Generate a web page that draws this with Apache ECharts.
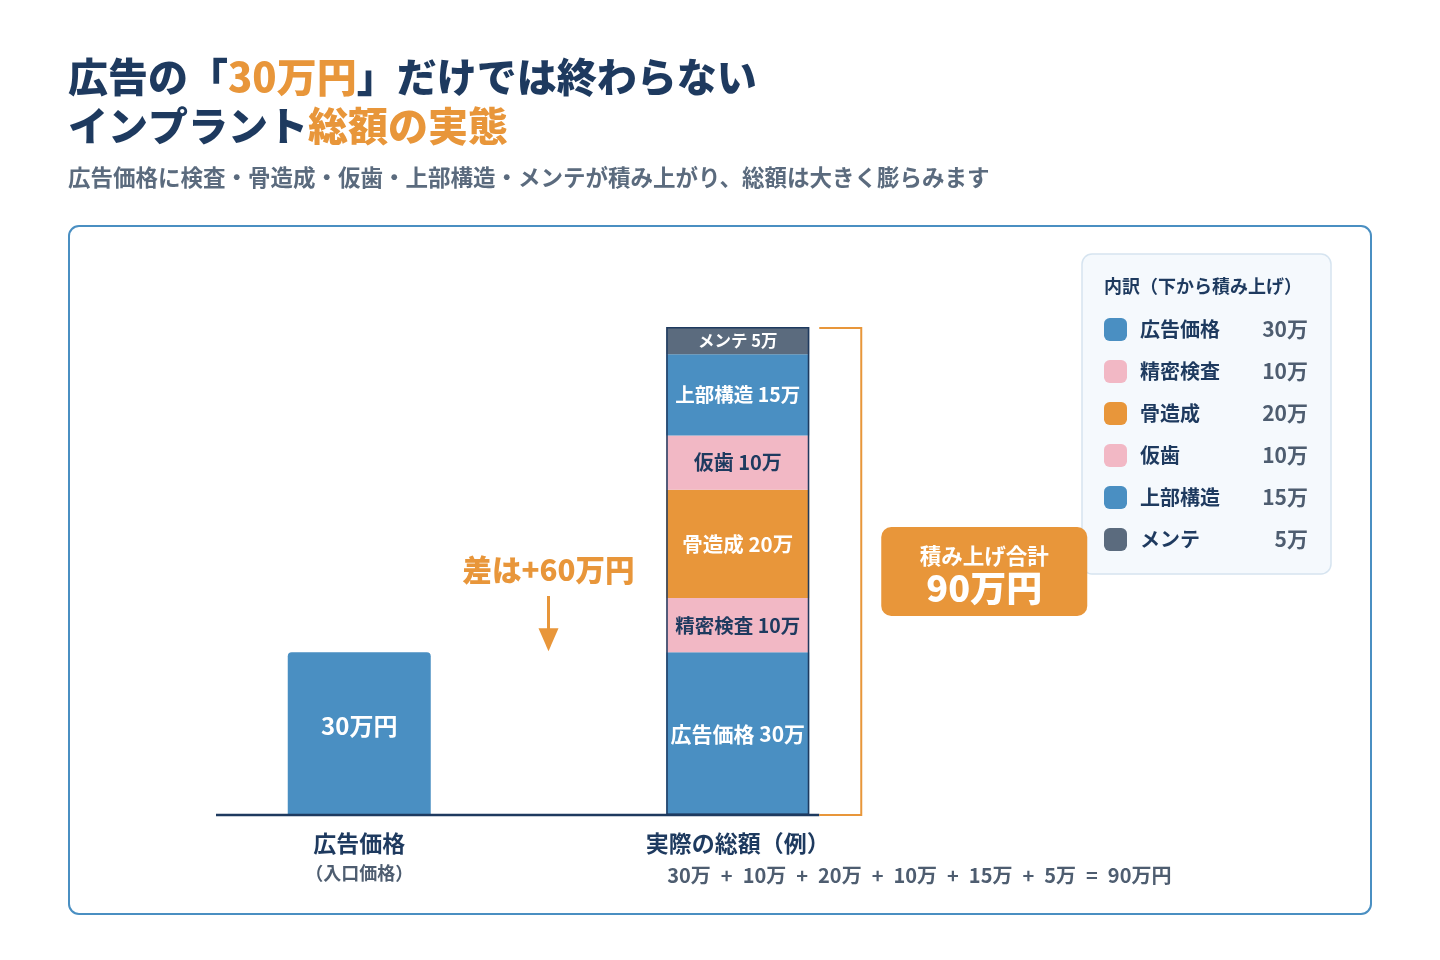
<!DOCTYPE html>
<html>
<head>
<meta charset="utf-8">
<script src="https://cdn.jsdelivr.net/npm/echarts@6/dist/echarts.min.js"></script>
<style>
html, body { margin: 0; background: #fff; }
#chart { width: 1440px; height: 960px; }
</style>
</head>
<body>
<div id="chart"></div>
<script>
// data
const categories = ['広告価格', '実際の総額（例）'];
const categorySubs = ['（入口価格）', ''];
const adPrice = 30;
const itemNames = ['広告価格', '精密検査', '骨造成', '仮歯', '上部構造', 'メンテ'];
const itemValues = [30, 10, 20, 10, 15, 5];
const itemColors = ['#4A8FC2', '#F2B8C5', '#E8963A', '#F2B8C5', '#4A8FC2', '#5B6B7E'];
const labelColors = ['#fff', '#1E3A5F', '#fff', '#1E3A5F', '#fff', '#fff'];
const labelSizes = [21, 19.5, 20.5, 20, 19.5, 16.5];
const total = itemValues.reduce((a, b) => a + b, 0);

const FONT = 'Noto Sans CJK JP';
const NAVY = '#1E3A5F';
const ORANGE = '#E8963A';
const GRAY = '#4E5D70';

const chart = echarts.init(document.getElementById('chart'));

let series = itemNames.map((name, i) => ({
    name: name,
    type: 'bar',
    stack: 'total',
    barWidth: 143,
    itemStyle: { color: itemColors[i] },
    label: {
        show: true,
        position: 'inside',
        fontFamily: FONT,
        fontWeight: 'bold',
        fontSize: labelSizes[i],
        color: labelColors[i],
        formatter: (p) => name + ' ' + p.value + '万'
    },
    data: [
        i === 0 ? {
            value: adPrice,
            itemStyle: { borderRadius: [4, 4, 0, 0] },
            label: { fontSize: 24, color: '#fff', offset: [0, -8], formatter: '{c}万円' }
        } : '-',
        itemValues[i]
    ]
}));
// outline around the stacked total
series.push({
    name: 'outline',
    type: 'bar',
    barWidth: 143,
    barGap: '-100%',
    silent: true,
    z: 3,
    itemStyle: { color: 'rgba(0,0,0,0)', borderColor: NAVY, borderWidth: 1.5 },
    data: ['-', total]
});

chart.setOption({
    animation: false,
    textStyle: { fontFamily: FONT },
    title: [{
        left: 68, top: 52, padding: 0,
        text: '{a|広告の「}{o|30万円}{a|」だけでは終わらない}\n{a|インプラント}{o|総額の実態}',
        textStyle: {
            rich: {
                a: { fontFamily: FONT, fontSize: 40, fontWeight: 900, color: NAVY, lineHeight: 49 },
                o: { fontFamily: FONT, fontSize: 40, fontWeight: 900, color: ORANGE, lineHeight: 49 }
            }
        }
    }, {
        left: 68, top: 166, padding: 0,
        text: '広告価格に検査・骨造成・仮歯・上部構造・メンテが積み上がり、総額は大きく膨らみます',
        textStyle: { fontFamily: FONT, fontSize: 22.5, fontWeight: 'bold', color: '#5B6B7E' }
    }],
    legend: {
        data: itemNames,
        orient: 'vertical',
        left: 1082,
        top: 254,
        padding: [64, 23, 23, 22],
        itemWidth: 23,
        itemHeight: 23,
        itemGap: 19,
        icon: 'roundRect',
        selectedMode: false,
        backgroundColor: '#F5F9FD',
        borderColor: '#D6E4F0',
        borderWidth: 1.5,
        borderRadius: 10,
        formatter: (name) => {
            const i = itemNames.indexOf(name);
            return '{s| }{n|' + name + '}{v|' + itemValues[i] + '万}';
        },
        textStyle: {
            rich: {
                s: { width: 8 },
                n: { width: 110, fontFamily: FONT, fontSize: 20, fontWeight: 'bold', color: NAVY, lineHeight: 23 },
                v: { width: 58, align: 'right', fontFamily: FONT, fontSize: 21, fontWeight: 'bold', color: GRAY, lineHeight: 23 }
            }
        }
    },
    grid: { left: 170, right: 513, top: 272.8, bottom: 145 },
    xAxis: {
        type: 'category',
        data: categories,
        axisLine: { show: false },
        axisTick: { show: false },
        axisLabel: {
            margin: 13,
            formatter: (v, i) => categorySubs[i] ? '{a|' + v + '}\n{b|' + categorySubs[i] + '}' : '{a|' + v + '}',
            rich: {
                a: { fontFamily: FONT, fontSize: 23, fontWeight: 'bold', color: NAVY, lineHeight: 30 },
                b: { fontFamily: FONT, fontSize: 18, fontWeight: 'bold', color: GRAY, lineHeight: 30 }
            }
        }
    },
    yAxis: { type: 'value', min: 0, max: 100, show: false },
    series: series
});

// annotations positioned through the chart's own scales
const px = (c, v) => chart.convertToPixel({ gridIndex: 0 }, [c, v]);
const [cx1, yBar1] = px(0, adPrice);
const [cx2, yTop] = px(1, total);
const yBase = px(1, 0)[1];
const yMid = px(1, total / 2)[1];
const halfW = 71.5;
const bx = cx2 + halfW + 10;
const bxr = cx2 + halfW + 52;
const midX = (cx1 + cx2) / 2;
const sp = '\u2002';

chart.setOption({
    graphic: [
        {
            type: 'rect', z: 0, silent: true,
            shape: { x: 69, y: 226, width: 1302, height: 688, r: 10 },
            style: { fill: 'none', stroke: '#4A8FC2', lineWidth: 2 }
        },
        {
            type: 'line', z: 10, silent: true,
            shape: { x1: 216, y1: yBase, x2: bx, y2: yBase },
            style: { stroke: NAVY, lineWidth: 2.5 }
        },
        {
            type: 'polyline', z: 10, silent: true,
            shape: { points: [[bx, yTop + 1], [bxr, yTop + 1], [bxr, yBase], [bx, yBase]] },
            style: { fill: 'none', stroke: ORANGE, lineWidth: 2 }
        },
        {
            type: 'rect', z: 10, silent: true,
            shape: { x: bxr + 20, y: yMid - 44, width: 206, height: 89, r: 10 },
            style: { fill: ORANGE }
        },
        {
            type: 'text', z: 11, silent: true,
            x: bxr + 123, y: yMid - 15,
            style: { text: '積み上げ合計', fill: '#fff', font: 'bold 21.5px "' + FONT + '"', align: 'center', verticalAlign: 'middle' }
        },
        {
            type: 'text', z: 11, silent: true,
            x: bxr + 123, y: yMid + 17,
            style: { text: total + '万円', fill: '#fff', font: '900 36px "' + FONT + '"', align: 'center', verticalAlign: 'middle' }
        },
        {
            type: 'text', z: 11, silent: true,
            x: midX, y: yMid - 1,
            style: { text: '差は+' + (total - adPrice) + '万円', fill: ORANGE, font: '900 29.5px "' + FONT + '"', align: 'center', verticalAlign: 'middle' }
        },
        {
            type: 'line', z: 11, silent: true,
            shape: { x1: midX, y1: yMid + 25, x2: midX, y2: yBar1 - 20 },
            style: { stroke: ORANGE, lineWidth: 3 }
        },
        {
            type: 'polygon', z: 11, silent: true,
            shape: { points: [[midX - 10, yBar1 - 24], [midX + 10, yBar1 - 24], [midX, yBar1 - 1]] },
            style: { fill: ORANGE }
        },
        {
            type: 'text', z: 11, silent: true,
            x: 1104, y: 286,
            style: { text: '内訳（下から積み上げ）', fill: NAVY, font: 'bold 18px "' + FONT + '"', verticalAlign: 'middle' }
        },
        {
            type: 'text', z: 11, silent: true,
            x: cx2 - halfW + 1, y: 875,
            style: {
                text: itemValues.map(v => v + '万').join(sp + '+' + sp) + sp + '=' + sp + total + '万円',
                fill: GRAY, font: 'bold 20px "' + FONT + '"', verticalAlign: 'middle'
            }
        }
    ]
});
</script>
</body>
</html>
